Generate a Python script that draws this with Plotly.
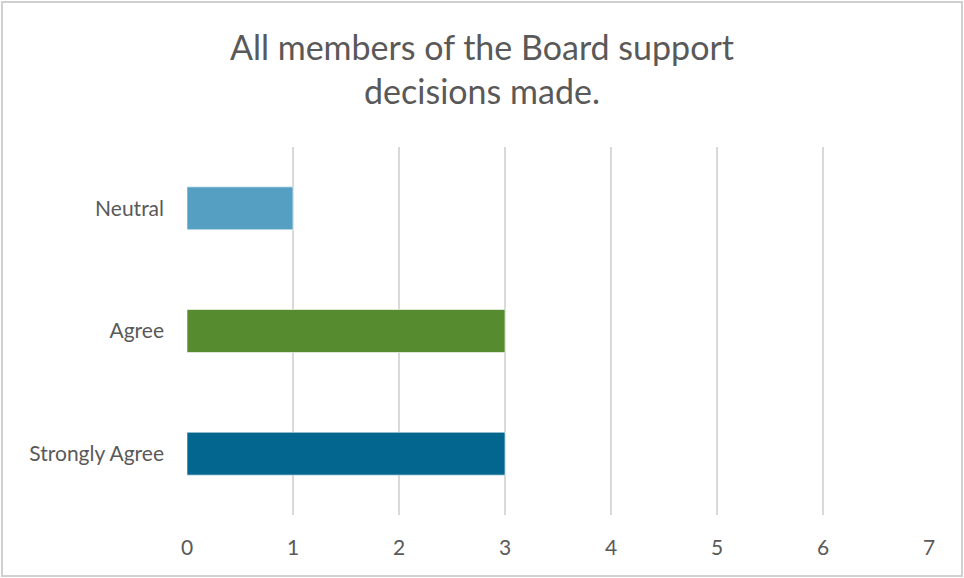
import plotly.graph_objects as go

categories = ["Strongly Agree", "Agree", "Neutral"]
values = [3, 3, 1]
colors = ["#02668F", "#568B2F", "#559FC3"]
tick_vals = [0, 1, 2, 3, 4, 5, 6, 7]

W, H = 964, 578
L, R, T, B = 187, 35, 147, 63
pw, ph = W - L - R, H - T - B

fig = go.Figure(go.Bar(
    y=categories, x=values, orientation="h",
    marker=dict(color=colors, line=dict(color="rgba(255,255,255,0.6)", width=1)),
    width=0.35,
))

def px2paper_x(px):
    return (px - L) / pw

def px2paper_y(py):
    return (H - B - py) / ph

fig.update_layout(
    width=W, height=H,
    margin=dict(l=L, r=R, t=T, b=B),
    paper_bgcolor="white", plot_bgcolor="white",
    showlegend=False,
    title=dict(
        text="All members of the Board support<br>decisions made.",
        x=0.5, xanchor="center", xref="container",
        y=1 - 60 / H, yanchor="middle",
        font=dict(family="Lato", size=34, color="#595959"),
    ),
    xaxis=dict(
        range=[0, 7], tickvals=tick_vals, showgrid=True,
        gridcolor="#D9D9D9", gridwidth=2, zeroline=False,
        showline=False, ticks="", ticklabelstandoff=18,
        tickfont=dict(family="Lato", size=21, color="#595959"),
    ),
    yaxis=dict(
        categoryorder="array", categoryarray=categories,
        showgrid=False, zeroline=False, showline=False, ticks="",
        ticklabelstandoff=22,
        tickfont=dict(family="Lato", size=21, color="#595959"),
    ),
    shapes=[dict(
        type="rect", xref="paper", yref="paper",
        x0=px2paper_x(2), x1=px2paper_x(962),
        y0=px2paper_y(576), y1=px2paper_y(2),
        line=dict(color="#D0D0D0", width=2), layer="below",
    )],
)
fig.write_html("out.html")
